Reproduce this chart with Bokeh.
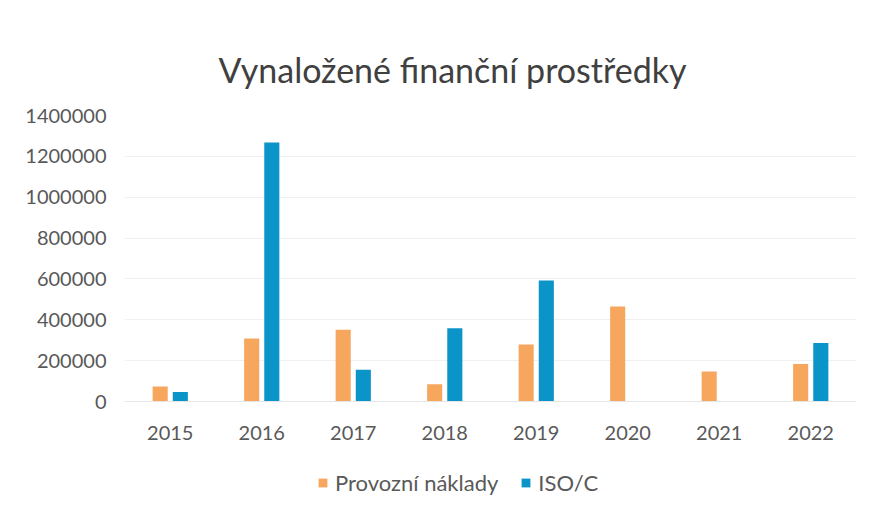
from bokeh.plotting import figure
from bokeh.layouts import column
from bokeh.models import ColumnDataSource, FactorRange, FixedTicker, BasicTickFormatter, Legend, LegendItem, Range1d
from bokeh.transform import dodge
from bokeh.embed import file_html
from bokeh.resources import INLINE

years = ["2015", "2016", "2017", "2018", "2019", "2020", "2021", "2022"]
provozni = [73000, 308000, 351000, 85000, 279000, 465000, 147000, 184000]
iso_c = [47000, 1268000, 155000, 359000, 592000, 0, 0, 286000]
y_ticks = [0, 200000, 400000, 600000, 800000, 1000000, 1200000, 1400000]
series_names = ["Provozní náklady", "ISO/C"]

src = ColumnDataSource(dict(year=years, prov=provozni, iso=iso_c))

p = figure(x_range=FactorRange(*years), y_range=(0, 1400000),
           width=883, height=446,
           output_backend="svg", toolbar_location=None,
           min_border_left=124, min_border_right=27, min_border_top=115, min_border_bottom=45)

p.title.text = "Vynaložené finanční prostředky"
p.title.align = "left"
p.title.text_font = "Lato"
p.title.text_font_style = "normal"
p.title.text_font_size = "34px"
p.title.text_color = "#404040"
p.title.standoff = 52
p.title.offset = 94

orange = "#F7A65E"
blue = "#0B94C8"
r1 = p.vbar(x=dodge("year", -0.11, range=p.x_range), top="prov", width=0.165, source=src,
            color=orange, line_color=None)
r2 = p.vbar(x=dodge("year", 0.11, range=p.x_range), top="iso", width=0.165, source=src,
            color=blue, line_color=None)

p.outline_line_color = None
p.xgrid.grid_line_color = None
p.ygrid.grid_line_color = "#f0f0f0"
p.yaxis.ticker = FixedTicker(ticks=y_ticks)
p.yaxis.formatter = BasicTickFormatter(use_scientific=False)
for ax in (p.xaxis[0], p.yaxis[0]):
    ax.axis_line_color = None
    ax.major_tick_line_color = None
    ax.minor_tick_line_color = None
    ax.major_label_text_font = "Lato"
    ax.major_label_text_font_size = "20px"
    ax.major_label_text_color = "#595959"
p.yaxis.major_label_standoff = 12
p.xaxis.major_label_standoff = 18
p.xaxis.axis_line_color = "#e6e6e6"

# legend strip below the chart (its renderers are hidden; only the legend shows)
p2 = figure(width=883, height=70, output_backend="svg", toolbar_location=None,
            x_range=FactorRange(*years), y_range=Range1d(-2, -1),
            min_border=0, min_border_left=0, min_border_right=0, min_border_top=0, min_border_bottom=0)
p2.axis.visible = False
p2.grid.visible = False
p2.outline_line_color = None
l1 = p2.vbar(x="year", top="prov", width=0.1, source=src, color=orange, line_color=None, visible=False)
l2 = p2.vbar(x="year", top="iso", width=0.1, source=src, color=blue, line_color=None, visible=False)
legend = Legend(items=[LegendItem(label=series_names[0], renderers=[l1]),
                       LegendItem(label=series_names[1], renderers=[l2])],
                orientation="horizontal", location=(193, 20),
                label_text_font="Lato", label_text_font_size="22px", label_text_color="#595959",
                glyph_width=11, glyph_height=11, spacing=22, label_standoff=7,
                border_line_color=None, background_fill_alpha=0, margin=0, padding=4,
                inactive_fill_alpha=0)
p2.add_layout(legend, "center")

open("out.html", "w").write(file_html(column(p, p2, spacing=0), INLINE))
